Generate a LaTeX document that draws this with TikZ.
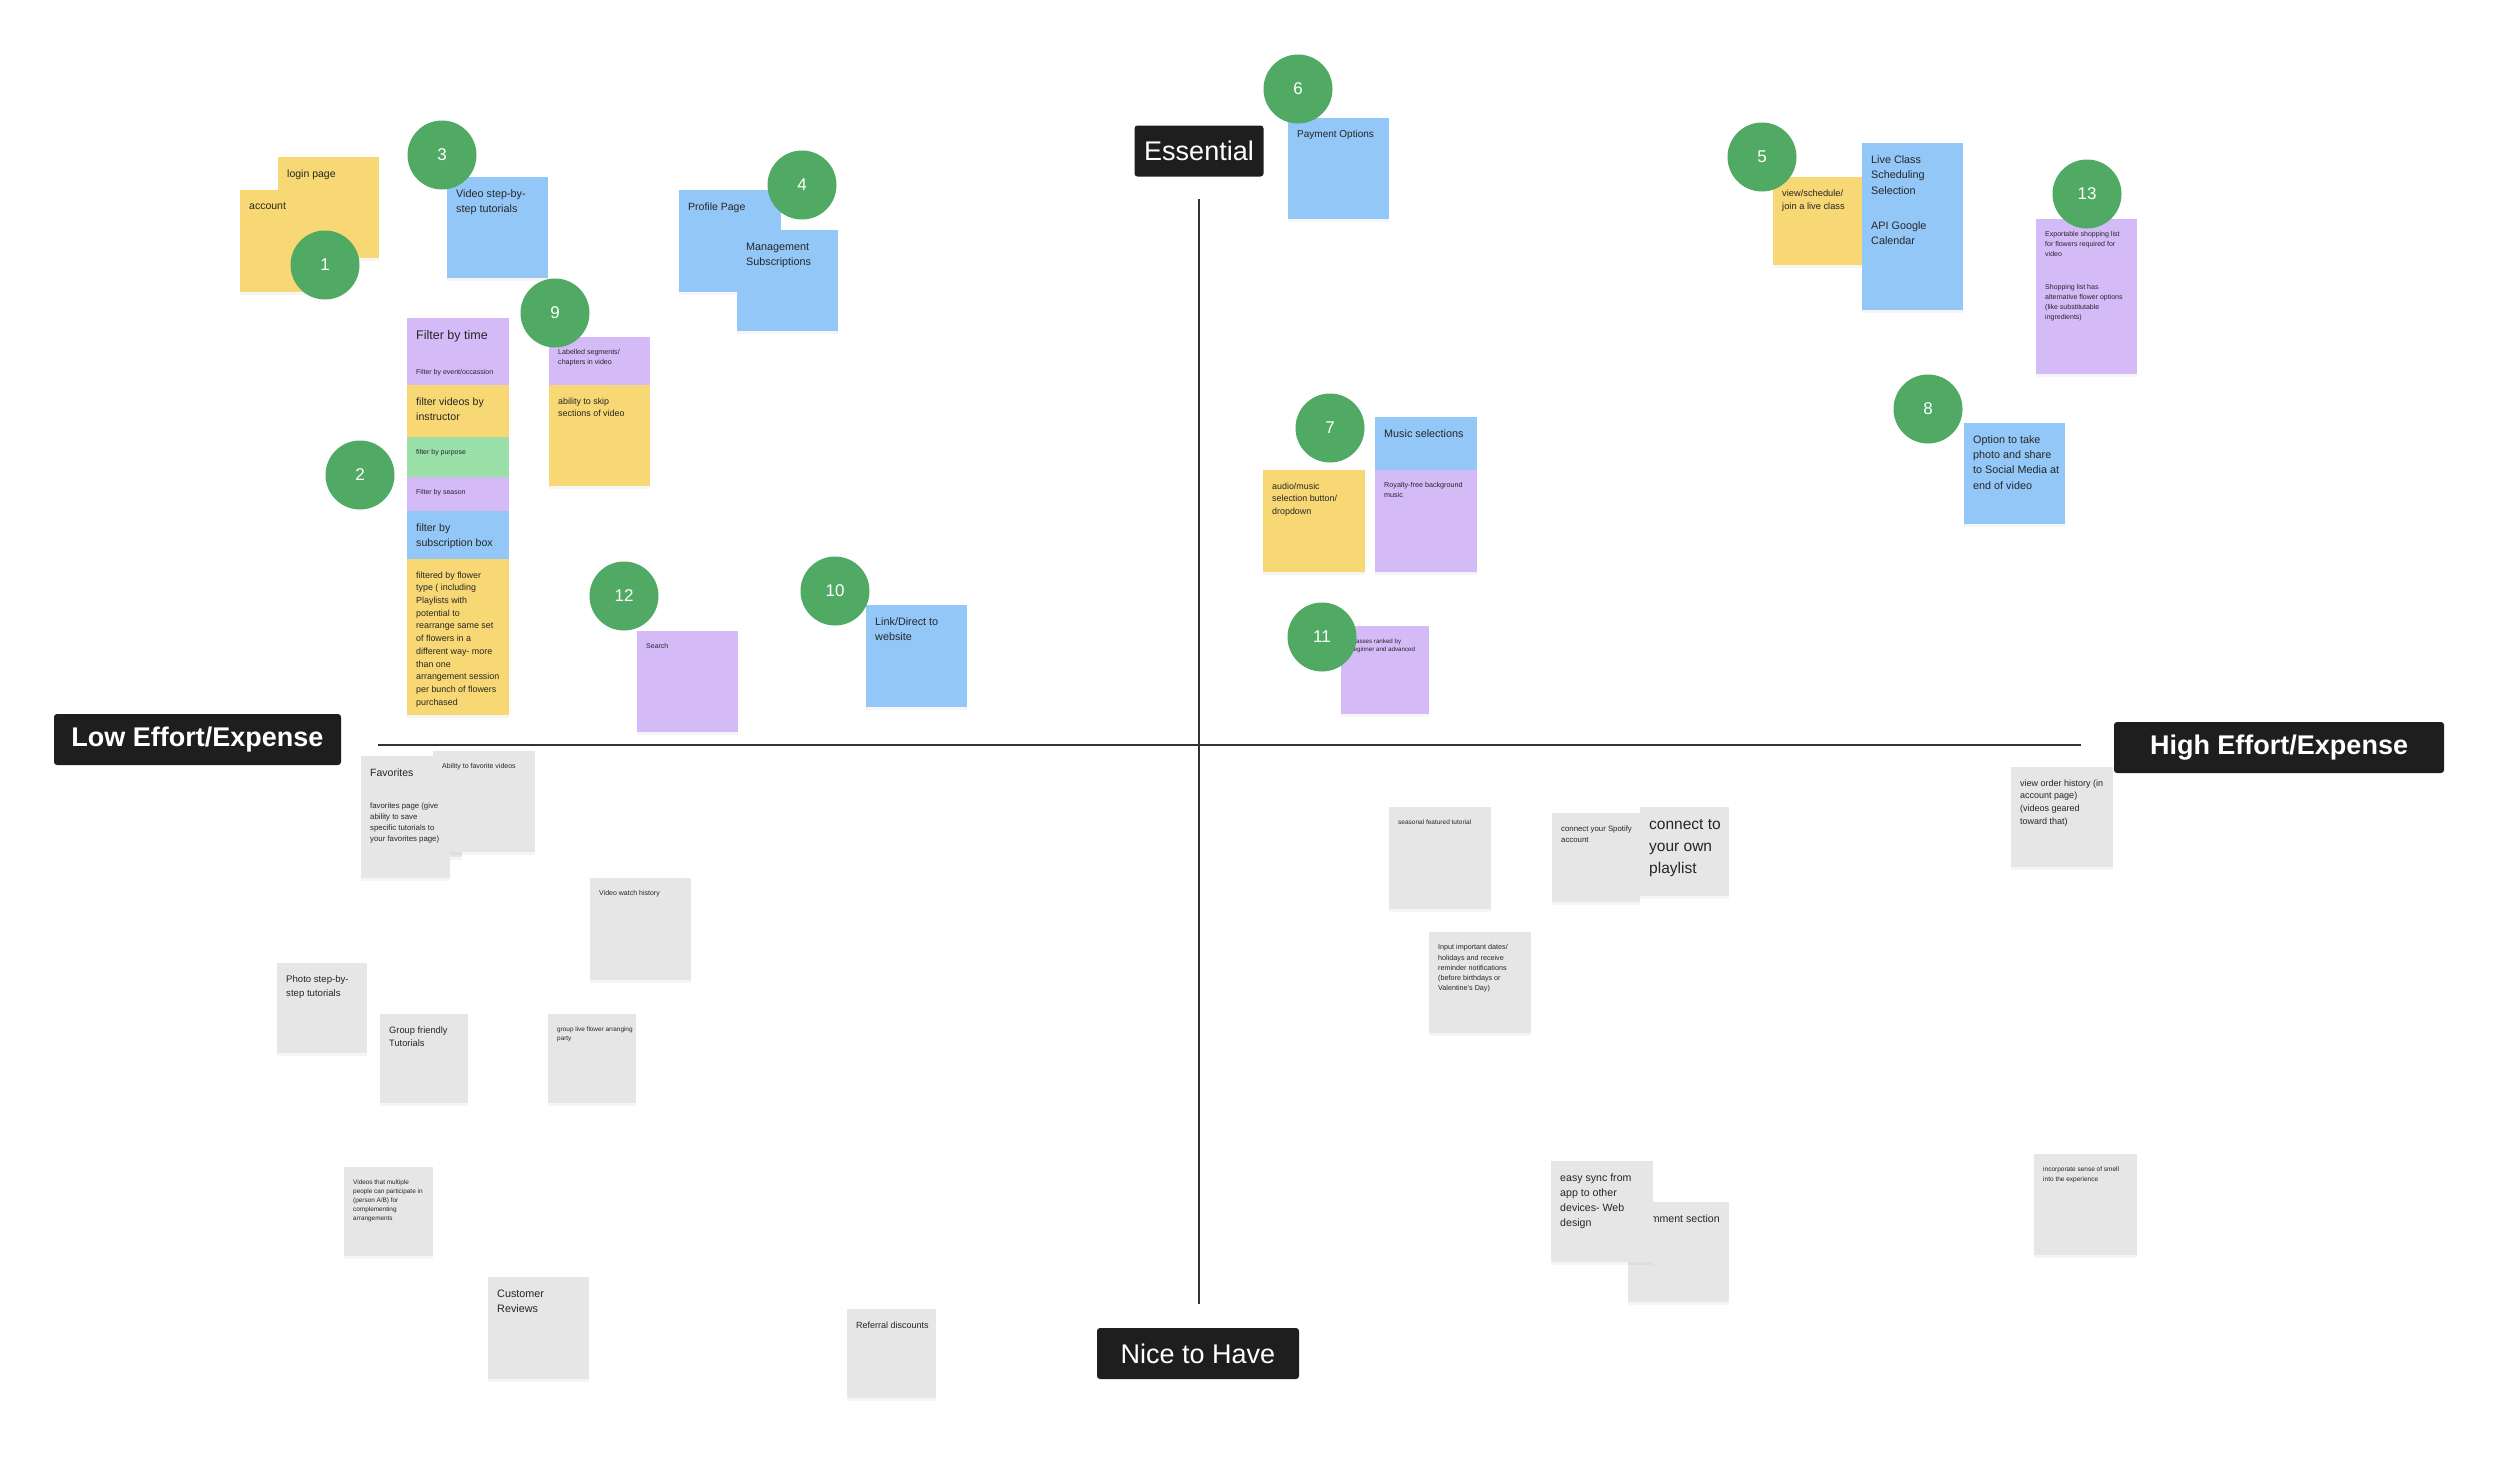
\documentclass[tikz,border=0pt]{standalone}
\usepackage{fontspec}
\setmainfont{Liberation Sans}
\usetikzlibrary{shadows}
\definecolor{yel}{HTML}{F8D874}
\definecolor{blu}{HTML}{93C7F8}
\definecolor{pur}{HTML}{D4BBF8}
\definecolor{grn}{HTML}{9BE0A8}
\definecolor{gry}{HTML}{E6E6E6}
\definecolor{badgegreen}{HTML}{50AA64}
\definecolor{labelbg}{HTML}{1E1E1E}
\definecolor{notefg}{HTML}{262626}
\definecolor{axisc}{HTML}{333333}
\newcommand\fs[2]{\fontsize{#1}{#2}\selectfont}
\newcommand\sticky[8]{%
  \node[notebox, fill=#6, minimum width=#4pt, minimum height=#5pt, anchor=north west] (#1) at (#2,#3) {};
  \node[notetext, font=#7, anchor=north west] (#1t) at (#1.north west) {#8};}
\begin{document}
\begin{tikzpicture}[x=1pt,y=-1pt,
  notebox/.style={rectangle, inner sep=0pt, outer sep=0pt,
    drop shadow={opacity=0.08, shadow xshift=0pt, shadow yshift=-2.5pt}},
  notetext/.style={inner xsep=9pt, inner ysep=12.5pt, align=left, text=notefg},
  badge/.style={circle, fill=badgegreen, minimum size=69pt, inner sep=0pt, text=white, font=\fs{17}{20}},
  axislabel/.style={rectangle, rounded corners=3pt, fill=labelbg, text=white, minimum height=51pt, inner sep=0pt, font=\fs{27}{30}},
  axisline/.style={draw=axisc, line width=2pt}]
\useasboundingbox (0,0) rectangle (2500,1460);
\fill[white] (0,0) rectangle (2500,1460);

% axes
\coordinate (vt) at (1199,199);
\coordinate (vb) at (1199,1304);
\coordinate (hl) at (378,745);
\coordinate (hr) at (2081,745);
\draw[axisline] (vt) -- (vb);
\draw[axisline] (hl) -- (hr);

% axis labels
\node[axislabel, minimum width=129pt] (essential) at (1199,151) {Essential};
\node[axislabel, minimum width=287pt, font=\fs{27}{30}\bfseries] (loweff) at (197.5,739.5) {Low Effort/Expense};
\node[axislabel, minimum width=330pt, font=\fs{27}{30}\bfseries] (higheff) at (2279,747.5) {High Effort/Expense};
\node[axislabel, minimum width=202pt] (nice) at (1198,1353.5) {Nice to Have};

% upper left
\sticky{login}{278}{157}{101}{101}{yel}{\fs{10.5}{15}}{login page}
\sticky{account}{240}{190}{102}{102}{yel}{\fs{10.5}{15}}{account}
\sticky{video}{447}{177}{101}{101}{blu}{\fs{10.8}{15.3}}{Video step-by-\\step tutorials}
\sticky{profile}{679}{190}{102}{102}{blu}{\fs{10.5}{15}}{Profile Page}
\sticky{mgmt}{737}{230}{101}{101}{blu}{\fs{10.8}{15.3}}{Management\\Subscriptions}
\sticky{ftime}{407}{318}{102}{102}{pur}{\fs{12.5}{17}}{Filter by time}
\sticky{fevent}{407}{357}{102}{102}{pur}{\fs{7}{10}}{Filter by event/occassion}
\sticky{finstr}{407}{385}{102}{102}{yel}{\fs{10.6}{15}}{filter videos by\\instructor}
\sticky{fpurpose}{407}{437}{102}{102}{grn}{\fs{7}{10}}{filter by purpose}
\sticky{fseason}{407}{477}{102}{102}{pur}{\fs{7}{10}}{Filter by season}
\sticky{fsub}{407}{511}{102}{102}{blu}{\fs{10.6}{15}}{filter by\\subscription box}
\sticky{fflower}{407}{559}{102}{156}{yel}{\fs{8.9}{12.7}}{filtered by flower\\type ( including\\Playlists with\\potential to\\rearrange same set\\of flowers in a\\different way- more\\than one\\arrangement session\\per bunch of flowers\\purchased}
\sticky{labelled}{549}{337}{101}{101}{pur}{\fs{7.1}{10}}{Labelled segments/\\chapters in video}
\sticky{skip}{549}{385}{101}{101}{yel}{\fs{8.9}{12.7}}{ability to skip\\sections of video}
\sticky{search}{637}{631}{101}{101}{pur}{\fs{7}{10}}{Search}
\sticky{link}{866}{605}{101}{102}{blu}{\fs{10.8}{15.3}}{Link/Direct to\\website}

% upper right
\sticky{payment}{1288}{118}{101}{101}{blu}{\fs{10}{14}}{Payment Options}
\sticky{viewsched}{1773}{177}{89}{88}{yel}{\fs{9.3}{13.3}}{view/schedule/\\join a live class}
\sticky{liveclass}{1862}{143}{101}{167}{blu}{\fs{10.8}{15.3}}{Live Class\\Scheduling\\Selection\\[20pt]API Google\\Calendar}
\sticky{export}{2036}{219}{101}{155}{pur}{\fs{7}{10}}{Exportable shopping list\\for flowers required for\\video\\[23pt]Shopping list has\\alternative flower options\\(like substitutable\\ingredients)}
\sticky{music}{1375}{417}{102}{102}{blu}{\fs{10.8}{15.3}}{Music selections}
\sticky{royalty}{1375}{470}{102}{102}{pur}{\fs{7.2}{10}}{Royalty-free background\\music}
\sticky{audio}{1263}{470}{102}{102}{yel}{\fs{8.9}{12.6}}{audio/music\\selection button/\\dropdown}
\sticky{photo}{1964}{423}{101}{101}{blu}{\fs{10.8}{15.2}}{Option to take\\photo and share\\to Social Media at\\end of video}
\sticky{ranked}{1341}{626}{88}{88}{pur}{\fs{6.2}{8.7}}{Classes ranked by\\beginner and advanced}

% lower left
\sticky{favorites}{361}{756}{101}{101}{gry}{\fs{10.5}{15}}{Favorites}
\sticky{abilityfav}{433}{751}{102}{101}{gry}{\fs{7}{10}}{Ability to favorite videos}
\sticky{favpage}{361}{790}{89}{88}{gry}{\fs{7.8}{11}}{favorites page (give\\ability to save\\specific tutorials to\\your favorites page)}
\sticky{watch}{590}{878}{101}{102}{gry}{\fs{7}{10}}{Video watch history}
\sticky{photostep}{277}{963}{90}{90}{gry}{\fs{9.6}{13.6}}{Photo step-by-\\step tutorials}
\sticky{groupfr}{380}{1014}{88}{89}{gry}{\fs{9.3}{13}}{Group friendly\\Tutorials}
\sticky{groupparty}{548}{1014}{88}{89}{gry}{\fs{6.4}{9}}{group live flower arranging\\party}
\sticky{multiple}{344}{1167}{89}{89}{gry}{\fs{6.4}{9}}{Videos that multiple\\people can participate in\\(person A/B) for\\complementing\\arrangements}
\sticky{reviews}{488}{1277}{101}{102}{gry}{\fs{10.8}{15.3}}{Customer\\Reviews}
\sticky{referral}{847}{1309}{89}{89}{gry}{\fs{9}{13}}{Referral discounts}

% lower right
\sticky{seasonal}{1389}{807}{102}{102}{gry}{\fs{6.5}{9}}{seasonal featured tutorial}
\sticky{spotify}{1552}{813}{88}{89}{gry}{\fs{7.8}{11}}{connect your Spotify\\account}
\sticky{playlist}{1640}{807}{89}{89}{gry}{\fs{15.5}{22}}{connect to\\your own\\playlist}
\sticky{dates}{1429}{932}{102}{101}{gry}{\fs{7.2}{10.2}}{Input important dates/\\holidays and receive\\reminder notifications\\(before birthdays or\\Valentine's Day)}
\sticky{orderhist}{2011}{767}{102}{100}{gry}{\fs{9}{12.7}}{view order history (in\\account page)\\(videos geared\\toward that)}
\sticky{comment}{1628}{1202}{101}{100}{gry}{\fs{10.6}{15}}{Comment section}
\sticky{easysync}{1551}{1161}{102}{101}{gry}{\fs{10.6}{15}}{easy sync from\\app to other\\devices- Web\\design}
\sticky{smell}{2034}{1154}{103}{101}{gry}{\fs{6.5}{10}}{incorporate sense of smell\\into the experience}

% number badges
\node[badge] (b1) at (325,265) {1};
\node[badge] (b2) at (360,475) {2};
\node[badge] (b3) at (442,155) {3};
\node[badge] (b4) at (802,185) {4};
\node[badge] (b5) at (1762,157) {5};
\node[badge] (b6) at (1298,89) {6};
\node[badge] (b7) at (1330,428) {7};
\node[badge] (b8) at (1928,409) {8};
\node[badge] (b9) at (555,313) {9};
\node[badge] (b10) at (835,591) {10};
\node[badge] (b11) at (1322,637) {11};
\node[badge] (b12) at (624,596) {12};
\node[badge] (b13) at (2087,194) {13};
\end{tikzpicture}
\end{document}
